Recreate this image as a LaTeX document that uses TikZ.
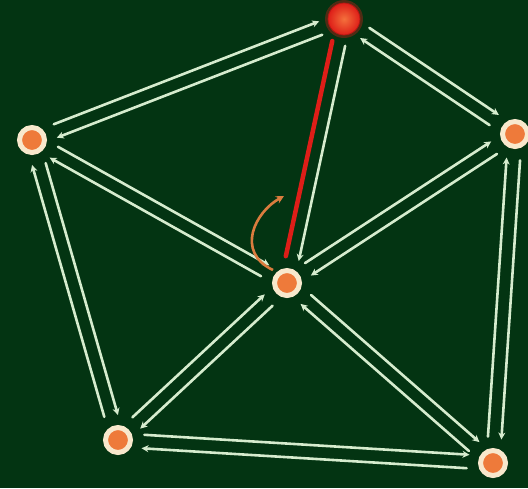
\documentclass[tikz,border=0pt]{standalone}
\usetikzlibrary{calc,arrows.meta}
\definecolor{bg}{RGB}{3,52,18}
\definecolor{edgec}{RGB}{214,236,206}
\definecolor{ringc}{RGB}{248,232,204}
\definecolor{dotc}{RGB}{238,122,58}
\definecolor{redc}{RGB}{222,30,24}
\definecolor{redcore}{RGB}{244,112,60}
\definecolor{arcc}{RGB}{218,124,62}
\tikzset{
  hedgestyle/.style={draw=edgec, line width=2.6pt, line cap=round, -{Stealth[length=7pt,width=7pt]}},
  redhedge/.style={draw=redc, line width=4.5pt, line cap=round, -},
  vert/.style={circle, fill=dotc, draw=ringc, line width=5pt, minimum size=25pt, inner sep=0pt},
  topvert/.style={circle, minimum size=32pt, inner sep=0pt, inner color=redcore, outer color=redc, draw=redc!80!black, line width=0.8pt},
  orangearc/.style={draw=arcc, line width=2.6pt, -{Stealth[length=8pt,width=8pt]}}
}
% half-edge from #2 to #3, offset to the left of its direction
\newcommand\hedge[3][hedgestyle]{\draw[#1] ($(#2)!26pt!(#3)!6.8pt!90:(#3)$) -- ($(#3)!24pt!(#2)!6.8pt!-90:(#2)$);}
\begin{document}
\begin{tikzpicture}[x=1pt,y=-1pt]
\fill[bg] (0,0) rectangle (528,488);
\useasboundingbox (0,0) rectangle (528,488);
% glow of the top vertex
\fill[redc, opacity=0.35] (344,19) circle (19pt);
\node[topvert] (T) at (344,19) {};
\node[vert] (L) at (32,140) {};
\node[vert] (R) at (515,134) {};
\node[vert] (C) at (287,283) {};
\node[vert] (BL) at (118,440) {};
\node[vert] (BR) at (493,463) {};
% half-edges
\hedge{L}{T} \hedge{T}{L}
\hedge{T}{R} \hedge{R}{T}
\hedge{T}{C} \hedge[redhedge]{C}{T}
\hedge{L}{C} \hedge{C}{L}
\hedge{R}{C} \hedge{C}{R}
\hedge{L}{BL} \hedge{BL}{L}
\hedge{R}{BR} \hedge{BR}{R}
\hedge{C}{BL} \hedge{BL}{C}
\hedge{C}{BR} \hedge{BR}{C}
\hedge{BL}{BR} \hedge{BR}{BL}
% rotation arrow
\coordinate (arcS) at (273,270);
\coordinate (arcE) at (284,196);
\draw[orangearc] (arcS) .. controls (235,252) and (255,212) .. (arcE);
\end{tikzpicture}
\end{document}
